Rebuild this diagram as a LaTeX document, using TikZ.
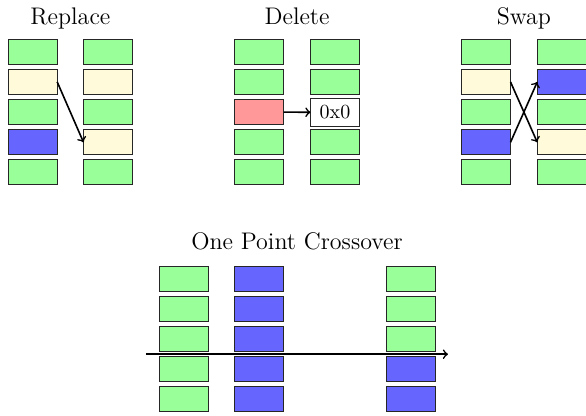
\documentclass[tikz,border=0pt]{standalone}
\usetikzlibrary{arrows}
\definecolor{gcell}{RGB}{153,255,153}
\definecolor{bcell}{RGB}{102,102,255}
\definecolor{ycell}{RGB}{255,250,218}
\definecolor{rcell}{RGB}{255,153,153}
\tikzset{
  cell/.style={draw=black!85, line width=0.5pt, minimum width=24.5pt, minimum height=12.5pt, inner sep=0pt, outer sep=0pt},
  gc/.style={cell, fill=gcell},
  bc/.style={cell, fill=bcell},
  yc/.style={cell, fill=ycell},
  rc/.style={cell, fill=rcell},
  wc/.style={cell, fill=white, minimum height=14.2pt},
  ttl/.style={anchor=base, font=\large, inner sep=0pt},
  conn/.style={->, thick, black}
}
\begin{document}
\begin{tikzpicture}[x=0.5pt, y=-0.5pt]
\useasboundingbox (0,0) rectangle (586,416);
% Replace
\node[ttl] (tR) at (70.4,25) {Replace};
\node[gc] (r11) at (32.7,51.7) {};
\node[yc] (r12) at (32.7,81.9) {};
\node[gc] (r13) at (32.7,112.1) {};
\node[bc] (r14) at (32.7,142.3) {};
\node[gc] (r15) at (32.7,172.5) {};
\node[gc] (r21) at (108,51.7) {};
\node[yc] (r22) at (108,81.9) {};
\node[gc] (r23) at (108,112.1) {};
\node[yc] (r24) at (108,142.3) {};
\node[gc] (r25) at (108,172.5) {};
\draw[conn] (r12.east) -- (r24.west);
% Delete
\node[ttl] (tD) at (297.1,25) {Delete};
\node[gc] (d11) at (259.2,51.7) {};
\node[gc] (d12) at (259.2,81.9) {};
\node[rc] (d13) at (259.2,112.1) {};
\node[gc] (d14) at (259.2,142.3) {};
\node[gc] (d15) at (259.2,172.5) {};
\node[gc] (d21) at (335,51.7) {};
\node[gc] (d22) at (335,81.9) {};
\node[wc] (d23) at (335,112.3) {0x0};
\node[gc] (d24) at (335,142.3) {};
\node[gc] (d25) at (335,172.5) {};
\draw[conn] (d13.east) -- (d23.west);
% Swap
\node[ttl] (tS) at (523.9,25) {Swap};
\node[gc] (s11) at (486,51.7) {};
\node[yc] (s12) at (486,81.9) {};
\node[gc] (s13) at (486,112.1) {};
\node[bc] (s14) at (486,142.3) {};
\node[gc] (s15) at (486,172.5) {};
\node[gc] (s21) at (561.8,51.7) {};
\node[bc] (s22) at (561.8,81.9) {};
\node[gc] (s23) at (561.8,112.1) {};
\node[yc] (s24) at (561.8,142.3) {};
\node[gc] (s25) at (561.8,172.5) {};
\draw[conn] (s12.east) -- (s24.west);
\draw[conn] (s14.east) -- (s22.west);
% One Point Crossover
\node[ttl] (tC) at (297,250) {One Point Crossover};
\node[gc] (c11) at (183.8,278.8) {};
\node[gc] (c12) at (183.8,308.9) {};
\node[gc] (c13) at (183.8,339.0) {};
\node[gc] (c14) at (183.8,369.1) {};
\node[gc] (c15) at (183.8,399.2) {};
\node[bc] (c21) at (259.5,278.8) {};
\node[bc] (c22) at (259.5,308.9) {};
\node[bc] (c23) at (259.5,339.0) {};
\node[bc] (c24) at (259.5,369.1) {};
\node[bc] (c25) at (259.5,399.2) {};
\node[gc] (c31) at (410.7,278.8) {};
\node[gc] (c32) at (410.7,308.9) {};
\node[gc] (c33) at (410.7,339.0) {};
\node[bc] (c34) at (410.7,369.1) {};
\node[bc] (c35) at (410.7,399.2) {};
\coordinate (xa) at (146,354.2);
\coordinate (xb) at (448,354.2);
\draw[conn] (xa) -- (xb);
\end{tikzpicture}
\end{document}
